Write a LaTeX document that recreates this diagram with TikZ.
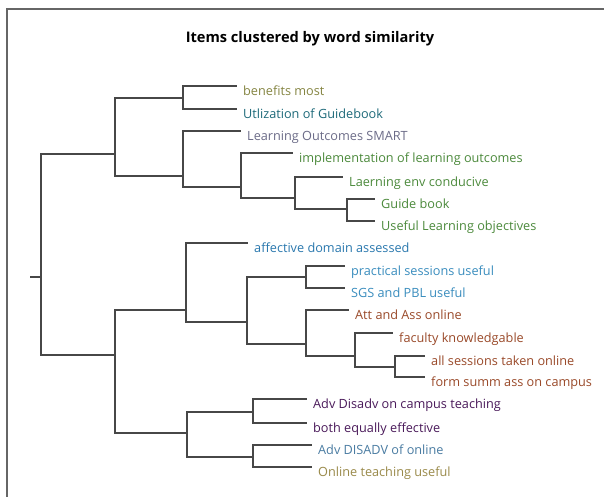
\documentclass[tikz,border=0pt]{standalone}
\usepackage{fontspec}
\setmainfont{Open Sans}
\begin{document}
\begin{tikzpicture}[x=1pt,y=-1pt,
  link/.style={draw=black!72, line width=1.2pt},
  leaf/.style={anchor=north west, inner xsep=6pt, inner ysep=0pt, text height=9pt, text depth=3pt, font=\fontsize{12.7}{15}\selectfont},
  ttl/.style={anchor=base, font=\fontsize{14.6}{17}\selectfont\bfseries}]
\useasboundingbox (0,0) rectangle (604,497);
\fill[white] (0,0) rectangle (604,497);
\draw[black!60, line width=2pt] (7,497) -- (7,9) -- (604,9);
\node[ttl] (title) at (310,43) {Items clustered by word similarity};
% colours
\definecolor{colive}{HTML}{858542}
\definecolor{cteal}{HTML}{1E6A7A}
\definecolor{cgrey}{HTML}{6C6C88}
\definecolor{cgreen}{HTML}{4C8A3C}
\definecolor{cblue}{HTML}{2A78AE}
\definecolor{clblue}{HTML}{3A8DBE}
\definecolor{cbrown}{HTML}{9A4A2A}
\definecolor{cpurple}{HTML}{4A1A5A}
\definecolor{csteel}{HTML}{4A7CA2}
\definecolor{ckhaki}{HTML}{9A8A4A}
% internal points
\coordinate (stub) at (30,277);
\coordinate (root) at (41,277);
\coordinate (A) at (115,154);
\coordinate (A1) at (183,98);
\coordinate (A2) at (183,176);
\coordinate (A2b) at (241,187);
\coordinate (A2c) at (295,198);
\coordinate (A2d) at (347,209);
\coordinate (B) at (115,355);
\coordinate (B1) at (186,310);
\coordinate (B1b) at (247,322);
\coordinate (B1b1) at (306,277);
\coordinate (B1b2) at (306,344);
\coordinate (B1b2b) at (355,356);
\coordinate (B1b2c) at (395,367);
\coordinate (C) at (187,433);
\coordinate (C1) at (253,412);
\coordinate (C2) at (253,457);
% leaves
\node[leaf, text=colive] (l1) at (237,86) {benefits most};
\node[leaf, text=cteal] (l2) at (237,109) {Utlization of Guidebook};
\node[leaf, text=cgrey] (l3) at (241,131) {Learning Outcomes SMART};
\node[leaf, text=cgreen] (l4) at (293,153) {implementation of learning outcomes};
\node[leaf, text=cgreen] (l5) at (343,177) {Laerning env conducive};
\node[leaf, text=cgreen] (l6) at (375,199) {Guide book};
\node[leaf, text=cgreen] (l7) at (375,221) {Useful Learning objectives};
\node[leaf, text=cblue] (l8) at (248,243) {affective domain assessed};
\node[leaf, text=clblue] (l9) at (345,266) {practical sessions useful};
\node[leaf, text=clblue] (l10) at (345,288) {SGS and PBL useful};
\node[leaf, text=cbrown] (l11) at (349,310) {Att and Ass online};
\node[leaf, text=cbrown] (l12) at (393,333) {faculty knowledgable};
\node[leaf, text=cbrown] (l13) at (425,356) {all sessions taken online};
\node[leaf, text=cbrown] (l14) at (425,377) {form summ ass on campus};
\node[leaf, text=cpurple] (l15) at (307,399) {Adv Disadv on campus teaching};
\node[leaf, text=cpurple] (l16) at (307,423) {both equally effective};
\node[leaf, text=csteel] (l17) at (312,445) {Adv DISADV of online};
\node[leaf, text=ckhaki] (l18) at (312,467) {Online teaching useful};
% links
\draw[link] (stub) -- (root);
\draw[link] (root) |- (A);
\draw[link] (root) |- (B);
\draw[link] (A) |- (A1);
\draw[link] (A) |- (A2);
\draw[link] (A1) |- (l1.north west);
\draw[link] (A1) |- (l2.north west);
\draw[link] (A2) |- (l3.north west);
\draw[link] (A2) |- (A2b);
\draw[link] (A2b) |- (l4.north west);
\draw[link] (A2b) |- (A2c);
\draw[link] (A2c) |- (l5.north west);
\draw[link] (A2c) |- (A2d);
\draw[link] (A2d) |- (l6.north west);
\draw[link] (A2d) |- (l7.north west);
\draw[link] (B) |- (B1);
\draw[link] (B) |- (C);
\draw[link] (B1) |- (l8.north west);
\draw[link] (B1) |- (B1b);
\draw[link] (B1b) |- (B1b1);
\draw[link] (B1b) |- (B1b2);
\draw[link] (B1b1) |- (l9.north west);
\draw[link] (B1b1) |- (l10.north west);
\draw[link] (B1b2) |- (l11.north west);
\draw[link] (B1b2) |- (B1b2b);
\draw[link] (B1b2b) |- (l12.north west);
\draw[link] (B1b2b) |- (B1b2c);
\draw[link] (B1b2c) |- (l13.north west);
\draw[link] (B1b2c) |- (l14.north west);
\draw[link] (C) |- (C1);
\draw[link] (C) |- (C2);
\draw[link] (C1) |- (l15.north west);
\draw[link] (C1) |- (l16.north west);
\draw[link] (C2) |- (l17.north west);
\draw[link] (C2) |- (l18.north west);
\end{tikzpicture}
\end{document}
